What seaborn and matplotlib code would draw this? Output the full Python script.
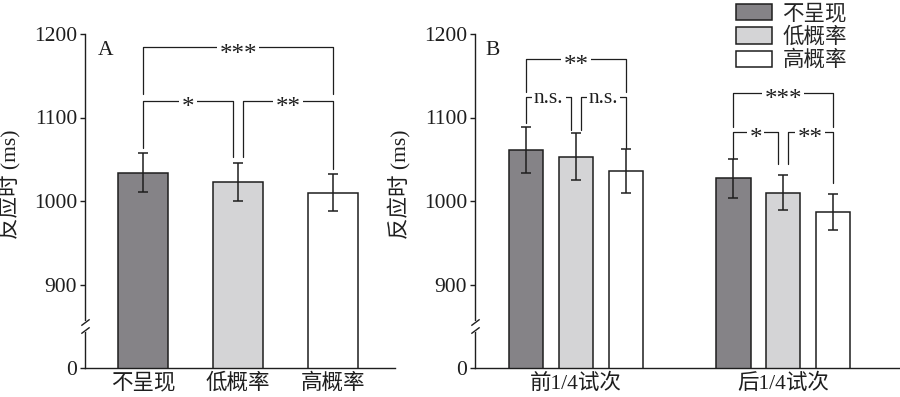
import pandas as pd
import seaborn as sns
import matplotlib.pyplot as plt

# data
conditions = ['不呈现', '低概率', '高概率']
rt_overall = [1034, 1023, 1010]
se_overall = [23.5, 23, 22]

phases = ['前1/4试次', '后1/4试次']
rt_first = [1061, 1053, 1036]
se_first = [28, 28, 26]
rt_last = [1027, 1010, 987]
se_last = [23, 21, 21.5]

# significance brackets: (bar i, bar j, top, low i, low j, label)
sig_a = [(0, 1, 1120, 1063, 1053, '*'),
         (1, 2, 1120, 1053, 1038, '**'),
         (0, 2, 1184, 1128, 1128, '***')]
sig_b = [(0, 1, 1124, 1094, 1085, 'n.s.'),
         (1, 2, 1124, 1085, 1063, 'n.s.'),
         (0, 2, 1170, 1131, 1131, '**'),
         (3, 4, 1083, 1050, 1044, '*'),
         (4, 5, 1083, 1044, 1021, '**'),
         (3, 5, 1129, 1089, 1089, '***')]

colors = ['#858387', '#d4d4d6', '#ffffff']
ink = '#1e1e1e'
fs = 15.5

sns.set_style('ticks')
plt.rcParams['font.family'] = ['Liberation Serif', 'Noto Sans CJK SC']
plt.rcParams['font.size'] = fs
plt.rcParams['axes.unicode_minus'] = False

df_a = pd.DataFrame({'condition': conditions, 'rt': rt_overall})
df_b = pd.DataFrame({
    'phase': [phases[0]] * 3 + [phases[1]] * 3,
    'condition': conditions * 2,
    'rt': rt_first + rt_last,
})

fig = plt.figure(figsize=(9, 3.97), dpi=100)
axA = fig.add_axes([85 / 900, 29 / 397, 310 / 900, 334 / 397])
axB = fig.add_axes([475 / 900, 29 / 397, 424 / 900, 334 / 397])

sns.barplot(data=df_a, x='condition', y='rt', hue='condition', palette=colors,
            width=0.526, edgecolor=ink, linewidth=1.1, legend=False, ax=axA)
sns.barplot(data=df_b, x='phase', y='rt', hue='condition', palette=colors,
            width=0.72, gap=0.31, edgecolor=ink, linewidth=1.1, ax=axB)

# error bars, bar centres taken from the drawn bars
xa = [b.get_x() + b.get_width() / 2 for cont in axA.containers for b in cont]
axA.errorbar(xa, rt_overall, yerr=se_overall, fmt='none', ecolor=ink,
             elinewidth=1.1, capsize=3.3, capthick=1.1, zorder=4)

xb_raw = []
for ci, cont in enumerate(axB.containers):
    for pi, b in enumerate(cont):
        xb_raw.append((pi, ci, b.get_x() + b.get_width() / 2))
xb_raw.sort()
xb = [t[2] for t in xb_raw]
axB.errorbar(xb, rt_first + rt_last, yerr=se_first + se_last, fmt='none',
             ecolor=ink, elinewidth=1.1, capsize=3.3, capthick=1.1, zorder=4)


def draw_brackets(ax, xs, specs, shift):
    for i, j, top, lo_i, lo_j, label in specs:
        x1, x2 = xs[i], xs[j]
        # shared middle bar gets two legs side by side
        if j - i == 1:
            if j % 3 == 1:
                x2 -= shift
            if i % 3 == 1:
                x1 += shift
        ax.plot([x1, x1, x2, x2], [lo_i, top, top, lo_j], color=ink, lw=0.9,
                clip_on=False, zorder=5)
        if label == 'n.s.':
            size, dy = fs, -3.8
        else:
            size, dy = 18, -9.5
        ax.annotate(label, xy=((x1 + x2) / 2, top), xytext=(0, dy),
                    textcoords='offset points', ha='center', va='baseline',
                    fontsize=size, color=ink, zorder=6, annotation_clip=False,
                    bbox=dict(boxstyle='square,pad=0.1', fc='white', ec='none'))


draw_brackets(axA, xa, sig_a, 0.05)
draw_brackets(axB, xb, sig_b, 0.025)

for ax, xlim, label, lx in [(axA, (-0.61, 2.65), 'A', 0.065),
                            (axB, (-0.488, 1.56), 'B', 0.042)]:
    ax.set_xlim(*xlim)
    ax.set_ylim(800, 1200)
    ax.set_yticks([800, 900, 1000, 1100, 1200])
    ax.set_yticklabels(['0', '900', '1000', '1100', '1200'])
    ax.set_xlabel('')
    ax.set_ylabel('反应时 (ms)', fontsize=fs, color=ink)
    ax.tick_params(axis='y', direction='out', length=3.6, width=1, pad=2,
                   labelsize=fs, colors=ink)
    ax.tick_params(axis='x', length=0, pad=4, labelsize=fs, colors=ink)
    for s in ['left', 'bottom']:
        ax.spines[s].set_color(ink)
        ax.spines[s].set_linewidth(1)
    sns.despine(ax=ax)
    ax.text(lx, 0.952, label, transform=ax.transAxes, ha='center', va='center',
            fontsize=fs, color=ink)
    # axis break on the y spine
    tr = ax.get_yaxis_transform()
    ax.plot([0, 0], [846, 854], color='white', lw=3, transform=tr,
            clip_on=False, zorder=7)
    for yb in [845, 855]:
        ax.plot([0], [yb], marker=[(-1, -0.75), (1, 0.75)], markersize=6,
                markeredgewidth=1, color=ink, transform=tr, clip_on=False,
                zorder=8)

axA.yaxis.set_label_coords(-0.205, 0.55)
axB.yaxis.set_label_coords(-0.15, 0.55)

sns.move_legend(axB, 'upper left', bbox_to_anchor=(736 / 900, 0.99),
                bbox_transform=fig.transFigure, frameon=False, title=None,
                fontsize=fs, handlelength=1.65, handleheight=0.8,
                labelspacing=0.12, handletextpad=0.5, borderpad=0,
                borderaxespad=0)

fig.savefig('out.png', dpi=100)
